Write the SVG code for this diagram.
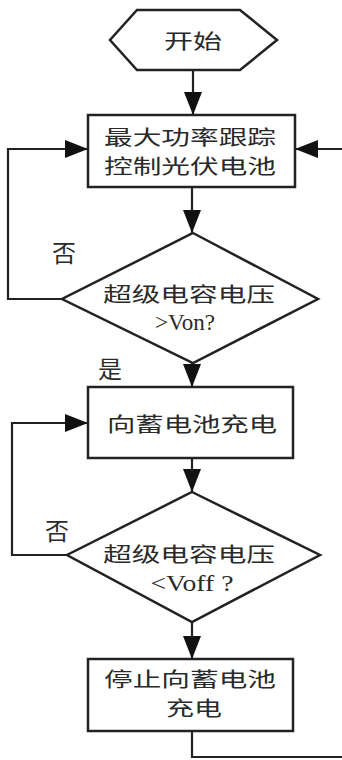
<svg xmlns="http://www.w3.org/2000/svg" width="342" height="760" viewBox="0 0 342 760">
<style>
.shape{fill:#fff;stroke:#222;stroke-width:2.5}
.line{fill:none;stroke:#222;stroke-width:2.2}
.cjk{font-family:"Noto Sans CJK SC","Noto Sans CJK JP",sans-serif;font-size:20px;fill:#2a2a2a;text-anchor:middle;dominant-baseline:central}
.lbl{font-size:24px}
.lat{font-family:"Liberation Serif",serif;font-size:23px}
</style>
<defs>
<marker id="arr" markerUnits="userSpaceOnUse" markerWidth="24" markerHeight="20" refX="23" refY="9" orient="auto">
<path d="M0,0 L23,9 L0,18 z" fill="#111"/>
</marker>
</defs>
<rect width="342" height="760" fill="#fff"/>
<g id="connectors">
<path class="line" d="M193,70 V115" marker-end="url(#arr)"/>
<path class="line" d="M192,187 V233" marker-end="url(#arr)"/>
<path class="line" d="M62,299 H8 V149 H88" marker-end="url(#arr)"/>
<path class="line" d="M342,149 H295" marker-end="url(#arr)"/>
<path class="line" d="M192,363 V387" marker-end="url(#arr)"/>
<path class="line" d="M192,458 V492" marker-end="url(#arr)"/>
<path class="line" d="M67,555 H12 V423 H88" marker-end="url(#arr)"/>
<path class="line" d="M192,622 V659" marker-end="url(#arr)"/>
<path class="line" d="M192,731 V757 H342"/>
</g>
<g id="start">
<polygon class="shape" points="137,10 240,10 277,40 240,70 137,70 110,40"/>
<text class="cjk" x="193" y="40" font-size="25" textLength="58" lengthAdjust="spacingAndGlyphs">开始</text>
</g>
<g id="mppt">
<rect class="shape" x="88" y="115" width="207" height="72"/>
<text class="cjk" x="190" y="136" textLength="172" lengthAdjust="spacingAndGlyphs">最大功率跟踪</text>
<text class="cjk" x="190" y="165" textLength="172" lengthAdjust="spacingAndGlyphs">控制光伏电池</text>
</g>
<g id="check-von">
<polygon class="shape" points="193,233 318,299 193,363 62,299"/>
<text class="cjk" x="189" y="293" textLength="172" lengthAdjust="spacingAndGlyphs">超级电容电压</text>
<text class="cjk lat" x="185" y="322" textLength="60" lengthAdjust="spacingAndGlyphs">&gt;Von?</text>
</g>
<g id="label-no-1"><text class="cjk lbl" x="64" y="251">否</text></g>
<g id="label-yes"><text class="cjk lbl" x="110" y="367">是</text></g>
<g id="charge">
<rect class="shape" x="88" y="387" width="205" height="71"/>
<text class="cjk" x="192" y="423" font-size="22" textLength="170" lengthAdjust="spacingAndGlyphs">向蓄电池充电</text>
</g>
<g id="check-voff">
<polygon class="shape" points="192,492 320,555 192,622 67,555"/>
<text class="cjk" x="189" y="553" textLength="172" lengthAdjust="spacingAndGlyphs">超级电容电压</text>
<text class="cjk lat" x="192" y="583" textLength="83" lengthAdjust="spacingAndGlyphs">&lt;Voff ?</text>
</g>
<g id="label-no-2"><text class="cjk lbl" x="57" y="529">否</text></g>
<g id="stop">
<rect class="shape" x="88" y="659" width="205" height="72"/>
<text class="cjk" x="190" y="678" textLength="172" lengthAdjust="spacingAndGlyphs">停止向蓄电池</text>
<text class="cjk" x="194" y="707" textLength="56" lengthAdjust="spacingAndGlyphs">充电</text>
</g>
</svg>
